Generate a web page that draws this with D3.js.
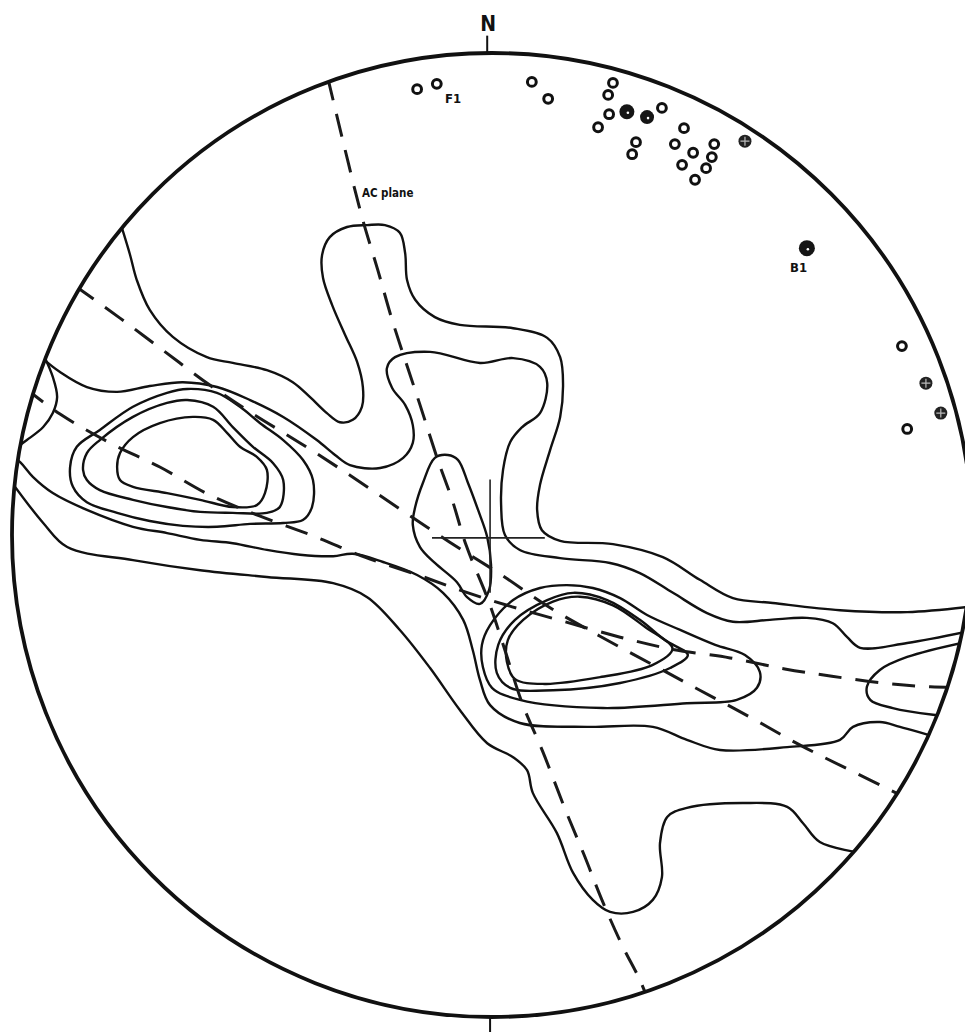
<!DOCTYPE html>
<html>
<head>
<meta charset="utf-8">
<script src="https://cdn.jsdelivr.net/npm/d3@7"></script>
<style>
  body { margin: 0; background: #fff; }
  svg { display: block; }
  .lbl { font-family: "DejaVu Sans Condensed", "DejaVu Sans", sans-serif; font-stretch: condensed; font-weight: bold; fill: #111; }
</style>
</head>
<body>
<div id="net"></div>
<script>
// stereonet coordinates: x east, y north, in percent of the primitive radius

// contour lines that end on the primitive circle
const outerUpper = [[-77.1,63.7],[-75.4,58.1],[-74.0,52.9],[-71.3,46.7],[-66.5,41.1],[-59.4,36.9],[-54.0,35.7],[-46.9,34.2],[-41.5,31.7],[-37.9,28.6],[-34.4,25.3],[-31.7,23.4],[-29.0,23.9],[-27.1,26.6],[-26.9,30.7],[-28.1,35.9],[-30.6,41.5],[-33.3,47.7],[-35.2,53.3],[-35.4,58.1],[-33.8,61.8],[-30.2,63.9],[-26.0,64.3],[-22.3,64.3],[-19.2,62.7],[-18.1,58.5],[-17.7,52.9],[-16.0,48.8],[-11.9,45.2],[-6.7,43.6],[4.4,42.9],[11.5,40.9],[14.2,36.9],[14.8,31.1],[14.2,24.5],[12.1,17.6],[10.0,10.4],[9.4,5.2],[10.4,1.0],[14.2,-1.2],[25.2,-1.9],[35.6,-4.6],[43.3,-9.3],[50.2,-13.1],[58.5,-14.1],[72.5,-15.6],[86.5,-16.0],[101,-14.7]];
const outerLower = [[77,-66],[68.3,-63.7],[64.8,-59.8],[61.5,-56.4],[52.3,-55.6],[40.6,-56.6],[36.5,-58.5],[35.0,-63.9],[35.4,-71.0],[33.5,-75.7],[29.4,-78.2],[24.6,-78.2],[21.0,-75.7],[16.9,-70.1],[13.5,-61.8],[8.5,-53.5],[7.3,-48.8],[4.4,-46.1],[-1.0,-43.2],[-6.7,-36.3],[-12.9,-27.6],[-19.2,-19.7],[-26.0,-12.9],[-33.1,-10.0],[-46.9,-8.7],[-60.8,-7.3],[-74.8,-5.2],[-88.5,-2.5],[-93.5,2.5],[-100.4,11.4]];
const secondUpper = [[-94.2,37.1],[-90.0,33.8],[-84.4,30.7],[-78.1,29.7],[-71.3,30.9],[-64.4,31.7],[-57.3,30.7],[-50.4,28.0],[-43.5,24.5],[-36.5,19.7],[-32.7,16.6],[-29.6,14.5],[-23.3,13.9],[-18.5,16.0],[-16.5,19.1],[-16.5,22.8],[-18.1,27.0],[-20.8,30.5],[-21.9,34.6],[-20.2,36.9],[-12.9,38.0],[-2.5,35.7],[4.4,36.7],[10.0,34.9],[11.5,31.5],[10.0,25.3],[6.3,22.4],[3.8,19.3],[2.3,13.5],[1.9,6.2],[2.7,0],[5.8,-3.1],[14.2,-4.8],[24.6,-5.8],[30.8,-7.9],[37.7,-12.0],[44.8,-16.2],[50.2,-18.0],[57.9,-17.6],[65.6,-17.2],[71.0,-18.3],[74.0,-21.2],[76.7,-23.4],[86.5,-22.4],[100.6,-19.7]];
const secondLower = [[-101.5,17.6],[-98.3,15.1],[-95.6,12.0],[-91.5,8.7],[-84.4,5.2],[-74.8,1.7],[-67.7,0.4],[-60.8,-1.0],[-54.0,-1.7],[-46.9,-3.1],[-40.0,-4.1],[-33.1,-4.4],[-29.0,-3.9],[-22.7,-5.6],[-15.6,-8.3],[-10.2,-12.0],[-6.0,-17.6],[-4.0,-23.9],[-2.5,-30.1],[-0.4,-35.3],[5.8,-39.0],[19.8,-39.8],[33.5,-39.8],[40.6,-42.5],[47.5,-44.6],[61.5,-44.0],[72.5,-42.5],[75.2,-39.8],[80.8,-38.8],[85.0,-39.8],[94.4,-42.5]];
const westLobe = [[-93.3,37.1],[-91.5,32.8],[-90.6,28.6],[-91.5,25.3],[-93.5,22.4],[-96.9,19.7],[-100.4,17.2]];
const eastLobe = [[100.6,-21.8],[86.5,-25.3],[80.8,-28.0],[78.1,-31.5],[78.8,-34.2],[83.5,-35.9],[91.9,-37.3],[100.6,-38.0]];

// closed contours
const westC3 = [[-87.9,14.1],[-86.5,18.3],[-81.7,21.8],[-74.8,26.6],[-67.7,29.5],[-63.5,30.3],[-57.3,29.5],[-52.5,26.6],[-48.3,23.2],[-43.5,19.7],[-39.4,15.6],[-37.3,11.4],[-37.5,5.8],[-39.4,3.1],[-43.5,2.5],[-50.4,2.3],[-57.3,1.7],[-64.4,1.9],[-71.3,2.9],[-78.1,4.6],[-84.4,6.8],[-87.3,10.0]];
const westC4 = [[-85.2,13.5],[-84.4,17.0],[-81.7,19.7],[-74.8,24.5],[-67.7,27.4],[-63.5,28.0],[-58.1,26.6],[-54.0,22.4],[-49.8,18.3],[-45.6,14.9],[-43.5,11.4],[-44.2,5.8],[-46.9,4.6],[-54.0,4.6],[-60.8,4.8],[-67.7,5.8],[-74.8,7.3],[-81.7,9.3],[-84.4,11.4]];
const westC5 = [[-78.1,14.1],[-77.5,17.0],[-74.8,20.3],[-69.2,23.2],[-62.3,24.5],[-58.1,23.9],[-55.2,21.2],[-52.5,18.3],[-49.0,16.2],[-46.9,13.5],[-47.3,8.7],[-49.0,6.2],[-54.0,5.8],[-60.8,7.3],[-67.7,8.7],[-74.8,10.0],[-77.5,11.4]];
const centreC3 = [[-11.9,16.0],[-9.2,16.6],[-7.1,15.6],[-5.0,10.8],[-2.9,5.2],[-1.0,-0.4],[-0.2,-6.2],[-0.6,-11.4],[-2.5,-14.3],[-5.2,-12.9],[-7.3,-9.8],[-11.9,-5.8],[-15.0,-2.5],[-16.5,2.1],[-16.0,5.8],[-14.4,10.8]];
const eastC3 = [[-1.9,-27.4],[-2.1,-22.8],[-0.4,-18.7],[4.4,-13.5],[10.0,-11.0],[15.6,-10.4],[21.0,-11.0],[26.7,-13.1],[32.3,-16.6],[39.2,-19.7],[46.5,-22.8],[52.7,-24.9],[55.8,-28.4],[55.2,-31.7],[51.0,-34.2],[40.6,-34.9],[23.1,-35.9],[5.8,-34.2],[0,-31.7]];
const eastC4 = [[1.0,-28.6],[1.3,-22.8],[4.8,-17.6],[11.5,-13.5],[16.9,-12.0],[24.0,-13.5],[30.8,-17.6],[36.0,-21.8],[40.8,-24.9],[37.1,-27.6],[26.7,-30.7],[12.7,-32.2],[3.8,-31.7]];
const eastC5 = [[3.1,-26.3],[3.3,-21.8],[6.5,-17.6],[12.7,-13.8],[18.3,-12.8],[25.2,-14.6],[31.9,-19.1],[37.6,-23.6],[33.4,-27.0],[22.5,-29.5],[11.0,-30.9],[4.8,-29.9]];

// great circles (dashed)
const acPlane = [[-34.2,94.8],[-30.6,79.9],[-27.1,66.0],[-23.8,55.0],[-20.8,44.6],[-18.1,36.3],[-15.0,27.0],[-11.3,15.6],[-8.3,7.3],[-5.4,-2.1],[-0.8,-13.5],[2.7,-23.9],[6.3,-34.9],[10.6,-45.0],[15.2,-56.8],[19.2,-66.4],[22.9,-75.7],[27.1,-85.1],[30.8,-92.3],[33.3,-98.5]];
const girdleA = [[-86.9,51.7],[-77.5,45.0],[-68.1,38.0],[-58.8,31.1],[-50.4,25.5],[-40.0,19.1],[-29.6,12.4],[-19.2,5.4],[-8.8,-1.5],[1.7,-8.1],[12.1,-15.1],[22.5,-21.0],[32.9,-26.6],[43.3,-32.2],[53.8,-37.8],[64.2,-43.6],[74.6,-48.8],[86.0,-54.4]];
const girdleB = [[-97.3,30.5],[-90.0,25.1],[-79.6,19.1],[-69.2,14.1],[-58.8,8.3],[-48.3,3.9],[-36.7,-0.4],[-26.5,-4.6],[-15.4,-8.3],[-5.6,-11.8],[4.2,-14.9],[15.2,-18.0],[26.7,-21.2],[37.5,-23.7],[49.6,-25.5],[61.0,-27.8],[70.8,-29.3],[81.3,-30.7],[91.3,-31.5],[101.7,-31.7]];

// plotted poles
const openPoles = [[-15.6,92.5],[-11.5,93.6],[8.3,94.0],[11.7,90.5],[25.2,93.8],[24.2,91.3],[24.4,87.3],[22.1,84.6],[35.4,88.6],[30.0,81.5],[29.2,79.0],[40.0,84.4],[38.1,81.1],[41.9,79.3],[39.6,76.8],[46.3,81.1],[45.8,78.4],[44.6,76.1],[42.3,73.7],[85.4,39.2],[86.5,22.0]];
const filledPoles = [[28.1,87.8,7.5],[32.3,86.7,7],[65.6,59.5,8]];
const crossedPoles = [[52.7,81.7],[90.4,31.5],[93.5,25.3]];

const labels = [
  { text: "N", x: -0.8, y: 104.6, size: 21, anchor: "middle" },
  { text: "F1", x: -9.8, y: 89.6, size: 13, anchor: "start" },
  { text: "B1", x: 62.1, y: 54.6, size: 13, anchor: "start" },
  { text: "AC plane", x: -27.1, y: 70.1, size: 11.5, anchor: "start" }
];

const width = 965, height = 1032;
const x = d3.scaleLinear().domain([-100, 100]).range([12, 972]);
const y = d3.scaleLinear().domain([-100, 100]).range([1017, 53]);

const svg = d3.select("#net").append("svg")
  .attr("width", width)
  .attr("height", height);

svg.append("rect").attr("width", width).attr("height", height).attr("fill", "#fff");

svg.append("clipPath").attr("id", "prim")
  .append("ellipse")
  .attr("cx", x(0)).attr("cy", y(0))
  .attr("rx", x(100) - x(0)).attr("ry", y(0) - y(100));

const open = d3.line().x(d => x(d[0])).y(d => y(d[1])).curve(d3.curveCatmullRom.alpha(0.5));
const closed = d3.line().x(d => x(d[0])).y(d => y(d[1])).curve(d3.curveCatmullRomClosed.alpha(0.5));

const g = svg.append("g").attr("clip-path", "url(#prim)");

// contours
g.selectAll(".c-open")
  .data([outerUpper, outerLower, secondUpper, secondLower, westLobe, eastLobe])
  .join("path")
  .attr("d", open)
  .attr("fill", "none")
  .attr("stroke", "#111")
  .attr("stroke-width", 2.4)
  .attr("stroke-linejoin", "round");

g.selectAll(".c-closed")
  .data([westC3, westC4, westC5, centreC3, eastC3, eastC4, eastC5])
  .join("path")
  .attr("d", closed)
  .attr("fill", "none")
  .attr("stroke", "#111")
  .attr("stroke-width", 2.4);

// dashed great circles
g.selectAll(".gc")
  .data([acPlane, girdleA, girdleB])
  .join("path")
  .attr("d", open)
  .attr("fill", "none")
  .attr("stroke", "#1a1a1a")
  .attr("stroke-width", 3)
  .attr("stroke-dasharray", "23,14");

// centre cross
g.append("line")
  .attr("x1", x(-12.5)).attr("x2", x(11)).attr("y1", y(-0.6)).attr("y2", y(-0.6))
  .attr("stroke", "#222").attr("stroke-width", 1.6);
g.append("line")
  .attr("x1", x(-0.4)).attr("x2", x(-0.4)).attr("y1", y(11.5)).attr("y2", y(-12))
  .attr("stroke", "#222").attr("stroke-width", 1.6);

// primitive circle
svg.append("ellipse")
  .attr("cx", x(0)).attr("cy", y(0))
  .attr("rx", x(100) - x(0)).attr("ry", y(0) - y(100))
  .attr("fill", "none")
  .attr("stroke", "#111")
  .attr("stroke-width", 3.8);

// N and S ticks
svg.append("line")
  .attr("x1", x(-1)).attr("x2", x(-1)).attr("y1", y(100)).attr("y2", y(103.6))
  .attr("stroke", "#111").attr("stroke-width", 2);
svg.append("line")
  .attr("x1", x(-0.4)).attr("x2", x(-0.4)).attr("y1", y(-100)).attr("y2", y(-104))
  .attr("stroke", "#111").attr("stroke-width", 2);

// poles
svg.selectAll(".open-pole")
  .data(openPoles)
  .join("circle")
  .attr("cx", d => x(d[0])).attr("cy", d => y(d[1]))
  .attr("r", 4.4)
  .attr("fill", "#fff")
  .attr("stroke", "#111")
  .attr("stroke-width", 3);

const fp = svg.selectAll(".filled-pole").data(filledPoles).join("g");
fp.append("circle")
  .attr("cx", d => x(d[0])).attr("cy", d => y(d[1]))
  .attr("r", d => d[2])
  .attr("fill", "#151515");
fp.append("circle")
  .attr("cx", d => x(d[0]) + 1).attr("cy", d => y(d[1]) + 1)
  .attr("r", 1.3)
  .attr("fill", "#fff");

const cp = svg.selectAll(".crossed-pole").data(crossedPoles).join("g");
cp.append("circle")
  .attr("cx", d => x(d[0])).attr("cy", d => y(d[1]))
  .attr("r", 6.5)
  .attr("fill", "#222");
cp.append("path")
  .attr("d", d => `M${x(d[0]) - 4.5},${y(d[1])}H${x(d[0]) + 4.5}M${x(d[0])},${y(d[1]) - 4.5}V${y(d[1]) + 4.5}`)
  .attr("stroke", "#bbb")
  .attr("stroke-width", 1.2);

// labels
svg.selectAll(".lbl")
  .data(labels)
  .join("text")
  .attr("class", "lbl")
  .attr("x", d => x(d.x)).attr("y", d => y(d.y))
  .attr("text-anchor", d => d.anchor)
  .style("font-size", d => d.size + "px")
  .text(d => d.text);
</script>
</body>
</html>
